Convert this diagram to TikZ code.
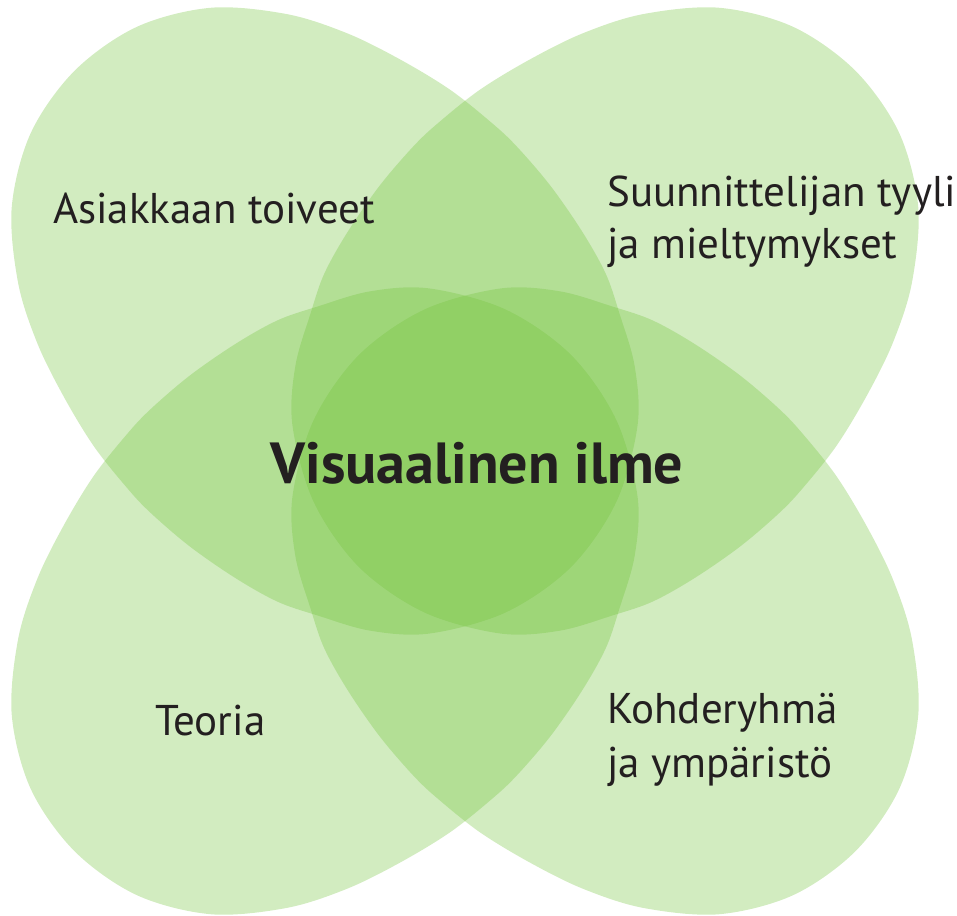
\documentclass[tikz,border=0pt]{standalone}
\usepackage{fontspec}
\setmainfont{PT Sans}
\definecolor{leafgreen}{RGB}{115,195,60}
\definecolor{txt}{RGB}{35,31,32}
\begin{document}
\begin{tikzpicture}[x=1pt,y=1pt,
  leaf/.style={fill=leafgreen, fill opacity=0.32, draw=none},
  lbl/.style={inner sep=0pt, anchor=base west, text=txt, font=\fontsize{43}{50}\selectfont},
  ttl/.style={inner sep=0pt, anchor=base, text=txt, font=\bfseries\fontsize{58}{64}\selectfont}]
\useasboundingbox (-465,-454) rectangle (492,461);
\foreach \r in {135,45,225,315} {
  \fill[leaf, rotate=\r] plot[smooth cycle, tension=0.55] coordinates {
    (552,0) (539,75) (500,141) (442,190) (386,219) (330,238) (273,252) (220,258)
    (186,259) (134,255) (79,245) (33,232) (-4,214) (-53,187) (-97,147) (-136,78)
    (-150,0)
    (-136,-78) (-97,-147) (-53,-187) (-4,-214) (33,-232) (79,-245) (134,-255)
    (186,-259) (220,-258) (273,-252) (330,-238) (386,-219) (442,-190) (500,-141) (539,-75)};
}
\node[lbl] (asiakas) at (-412,237) {Asiakkaan toiveet};
\node[lbl] (suun1) at (142,254) {Suunnittelijan tyyli};
\node[lbl] (suun2) at (142,202) {ja mieltymykset};
\node[ttl] (visu) at (12,-22) {Visuaalinen ilme};
\node[lbl] (teoria) at (-310,-274) {Teoria};
\node[lbl] (kohde1) at (142,-262) {Kohderyhmä};
\node[lbl] (kohde2) at (142,-316) {ja ympäristö};
\end{tikzpicture}
\end{document}
